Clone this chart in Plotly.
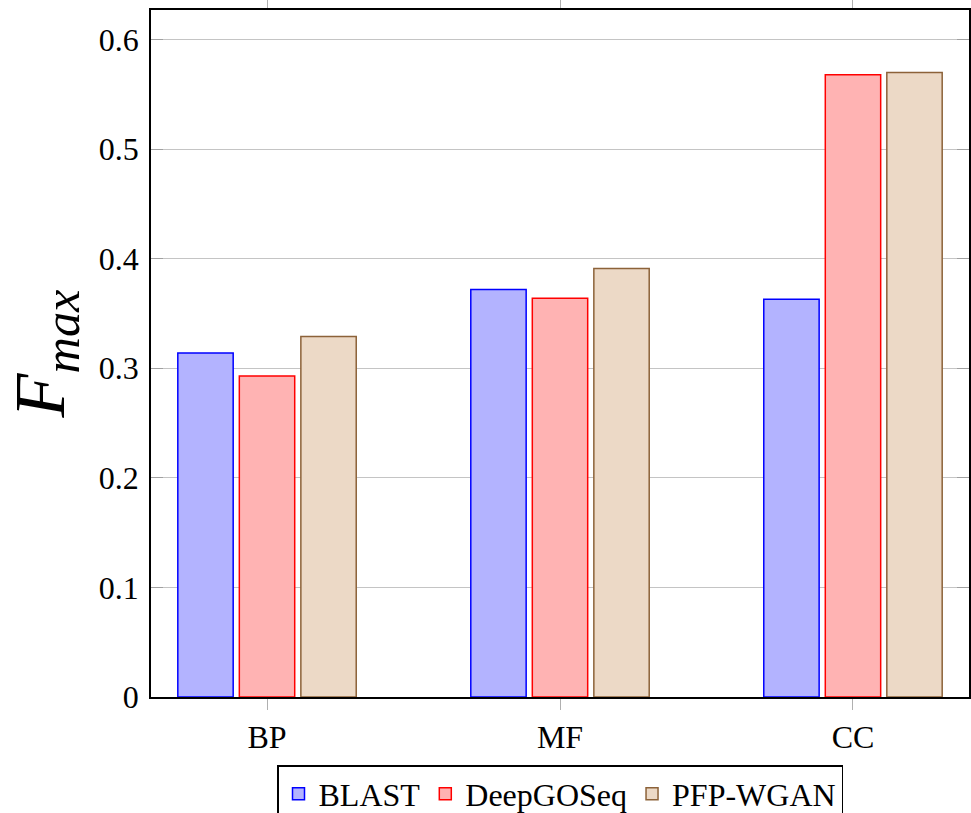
import plotly.graph_objects as go

categories = ["BP", "MF", "CC"]
blast = [0.314, 0.372, 0.363]
deepgoseq = [0.293, 0.364, 0.568]
pfp_wgan = [0.329, 0.391, 0.570]
series_names = ["BLAST", "DeepGOSeq", "PFP-WGAN"]
y_tickvals = [0, 0.1, 0.2, 0.3, 0.4, 0.5, 0.6]
y_ticktext = ["0", "0.1", "0.2", "0.3", "0.4", "0.5", "0.6"]

fills = ["#b3b3ff", "#ffb3b3", "#ecd9c6"]
edges = ["#0000ff", "#ff0000", "#8c6239"]
FONT = "Liberation Serif, DejaVu Serif, serif"

fig = go.Figure()
for name, vals, fc, ec in zip(series_names, [blast, deepgoseq, pfp_wgan], fills, edges):
    fig.add_trace(go.Bar(
        x=categories, y=vals, name=name,
        marker=dict(color=fc, line=dict(color=ec, width=1.5)),
    ))

fig.update_layout(
    width=971, height=813,
    margin=dict(l=151, r=2, t=10, b=116, autoexpand=False),
    paper_bgcolor="white", plot_bgcolor="white",
    barmode="group", bargap=0.37, bargroupgap=0.1,
    font=dict(family=FONT, size=31, color="black"),
    showlegend=True,
    legend=dict(
        orientation="h", x=0.5, xanchor="center", y=-0.099, yanchor="top",
        bordercolor="black", borderwidth=1.5, bgcolor="white",
        font=dict(family=FONT, size=32), itemwidth=30, tracegroupgap=0,
    ),
)
fig.update_xaxes(
    type="category", range=[-0.396, 2.396], automargin=False,
    showline=True, linecolor="black", linewidth=1.5, mirror="ticks",
    ticks="outside", ticklen=11, tickcolor="#b0b0b0", tickwidth=1.2,
    showgrid=False, tickfont=dict(family=FONT, size=32), ticklabelstandoff=0,
)
fig.update_yaxes(
    range=[0, 0.627], tickvals=y_tickvals, ticktext=y_ticktext, automargin=False,
    showline=True, linecolor="black", linewidth=1.5, mirror="ticks",
    ticks="inside", ticklen=12, tickcolor="#a0a0a0", tickwidth=1.2,
    showgrid=True, gridcolor="#c4c4c4", gridwidth=1.2, zeroline=False,
    tickfont=dict(family=FONT, size=32), ticklabelstandoff=4,
    title=dict(text="<i>F</i><sub><i>max</i></sub>", font=dict(family=FONT, size=72), standoff=12),
)

fig.write_html("out.html", config={"displayModeBar": False},
               post_script="document.body.style.margin='0';")
